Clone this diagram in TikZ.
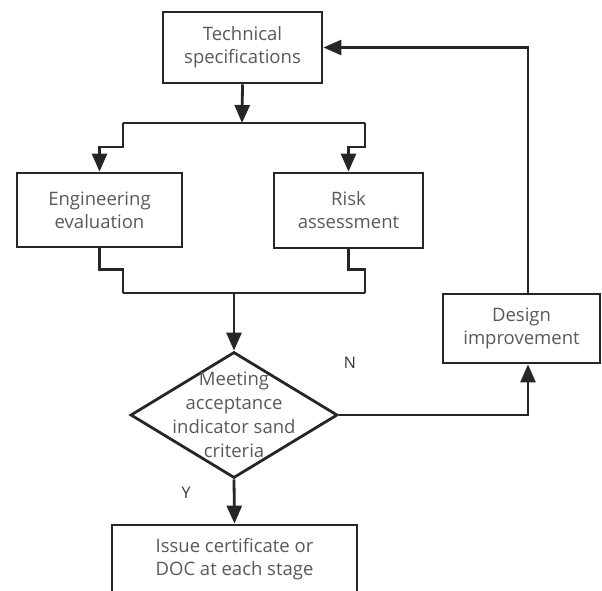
\documentclass[tikz,border=0pt]{standalone}
\usepackage{fontspec}
\setmainfont{Open Sans}
\usepackage{xcolor}
\usetikzlibrary{arrows.meta,positioning,shapes.geometric,calc}

\begin{document}
\begin{tikzpicture}[
    x=1pt, y=-1pt,
    line width=2.8pt, draw=black!85,
    block/.style={rectangle, draw=black!85, line width=2.8pt, align=center, inner sep=2pt, text=black!65, font=\fontsize{18.5}{23}\selectfont},
    decision/.style={diamond, draw=black!85, line width=2.8pt, inner sep=0pt, minimum width=207pt, minimum height=126pt},
    arrow/.style={-{Triangle[length=18pt,width=15pt]}, line width=2.8pt, draw=black!85},
    line/.style={line width=2.8pt, draw=black!85},
    yn/.style={text=black!80, font=\fontsize{16}{18}\selectfont}
]
\useasboundingbox (0,0) rectangle (602,591);
\clip (0,0) rectangle (602,591);

\node[block, minimum width=159pt, minimum height=71pt] (tech) at (242.5,47.5) {Technical\\specifications};
\node[block, minimum width=165pt, minimum height=74pt] (eng) at (99.5,210) {Engineering\\evaluation};
\node[block, minimum width=149pt, minimum height=75pt] (risk) at (348.5,210.5) {Risk\\assessment};
\node[decision, label={[text=black!65, font=\fontsize{18.5}{24}\selectfont, align=center]center:Meeting\\acceptance\\indicator sand\\criteria}] (dec) at (234,415) {};
\node[block, minimum width=157pt, minimum height=69pt] (design) at (521.5,328.5) {Design\\improvement};
\node[block, minimum width=245pt, minimum height=68pt] (issue) at (234.5,559) {Issue certificate or\\DOC at each stage};

% split after the specifications
\coordinate (sm) at (242,123);
\coordinate (sl) at (123,123);
\coordinate (sr) at (365,123);
\draw[arrow] (tech.south) -- (sm);
\draw[line] (sl) -- (sr);
\draw[arrow] (sl) -- ++(0,24) -| (eng.north);
\draw[arrow] (sr) -- ++(0,24) -| (risk.north);

% join before the decision
\coordinate (jl) at (123,293);
\coordinate (jr) at (365,293);
\coordinate (jm) at (234,293);
\draw[line] (eng.south) -- ++(0,21) -| (jl);
\draw[line] (risk.south) -- ++(0,20) -| (jr);
\draw[line] (jl) -- (jr);
\draw[arrow] (jm) -- (dec.north);

% loop back
\coordinate (up) at (528,47.5);
\draw[arrow] (dec.east) -| (design.south -| up);
\draw[arrow] (design.north -| up) |- (tech.east);
\draw[arrow] (dec.south) -- (issue.north);

\node[yn] (n) at (350,363) {N};
\node[yn] (y) at (186,493) {Y};
\end{tikzpicture}
\end{document}
